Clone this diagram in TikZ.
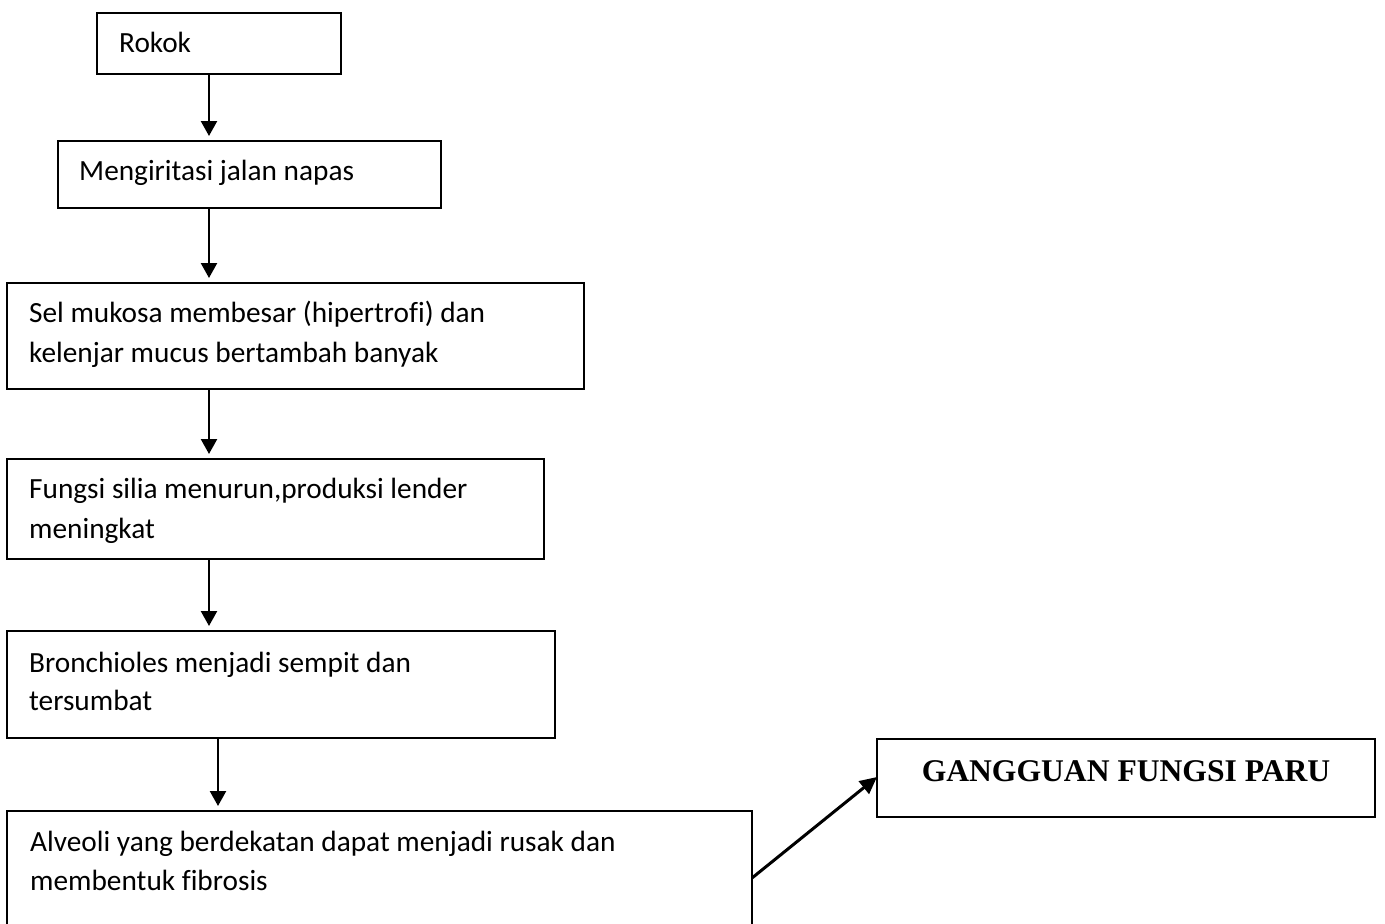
\documentclass[tikz,border=0pt]{standalone}
\usepackage{fontspec}
\setmainfont{Carlito}[Ligatures=NoCommon]
\newfontfamily\titlefont{Liberation Serif}
\usetikzlibrary{arrows.meta}
\tikzset{
  box/.style={draw=black, line width=2pt, inner sep=0pt, outer sep=0pt, anchor=north west, fill=white},
  txt/.style={inner sep=0pt, anchor=base west, font=\fontsize{29.3}{40}\selectfont},
  arr/.style={line width=2.3pt, -{Triangle[length=15pt,width=16pt]}, shorten >=5pt},
  darr/.style={line width=3pt, -{Triangle[length=17pt,width=16pt]}}
}
\begin{document}
\begin{tikzpicture}[x=1pt,y=-1pt]
\clip (0,0) rectangle (1385,924);
\fill[white] (0,0) rectangle (1385,924);
% boxes
\node[box, minimum width=244pt, minimum height=61pt] (b1) at (97,13) {};
\node[box, minimum width=383pt, minimum height=67pt] (b2) at (58,141) {};
\node[box, minimum width=577pt, minimum height=106pt] (b3) at (7,283) {};
\node[box, minimum width=537pt, minimum height=100pt] (b4) at (7,459) {};
\node[box, minimum width=548pt, minimum height=107pt] (b5) at (7,631) {};
\node[box, minimum width=745pt, minimum height=129pt] (b6) at (7,811) {};
\node[box, minimum width=498pt, minimum height=78pt] (b7) at (877,739) {};
% texts
\node[txt] (t1) at (119,52) {Rokok};
\node[txt] (t2) at (79,180) {Mengiritasi jalan napas};
\node[txt] (t3a) at (29,322) {Sel mukosa membesar (hipertrofi) dan};
\node[txt] (t3b) at (29,362) {kelenjar mucus bertambah banyak};
\node[txt] (t4a) at (29,498) {Fungsi silia menurun,produksi lender};
\node[txt] (t4b) at (29,538) {meningkat};
\node[txt] (t5a) at (29,672) {Bronchioles menjadi sempit dan};
\node[txt] (t5b) at (29,710) {tersumbat};
\node[txt] (t6a) at (30,851) {Alveoli yang berdekatan dapat menjadi rusak dan};
\node[txt] (t6b) at (30,890) {membentuk fibrosis};
\node[inner sep=0pt, anchor=base, font=\titlefont\bfseries\fontsize{31.6}{36}\selectfont] (t7) at (1126,781) {GANGGUAN FUNGSI PARU};
% arrow columns
\coordinate (ca) at (209,0);
\coordinate (cb) at (218,0);
\draw[arr] (b1.south -| ca) -- (b2.north -| ca);
\draw[arr] (b2.south -| ca) -- (b3.north -| ca);
\draw[arr] (b3.south -| ca) -- (b4.north -| ca);
\draw[arr] (b4.south -| ca) -- (b5.north -| ca);
\draw[arr] (b5.south -| cb) -- (b6.north -| cb);
\draw[darr] ([yshift=-2.5pt]b6.east) -- ([yshift=1pt]b7.west);
\end{tikzpicture}
\end{document}
